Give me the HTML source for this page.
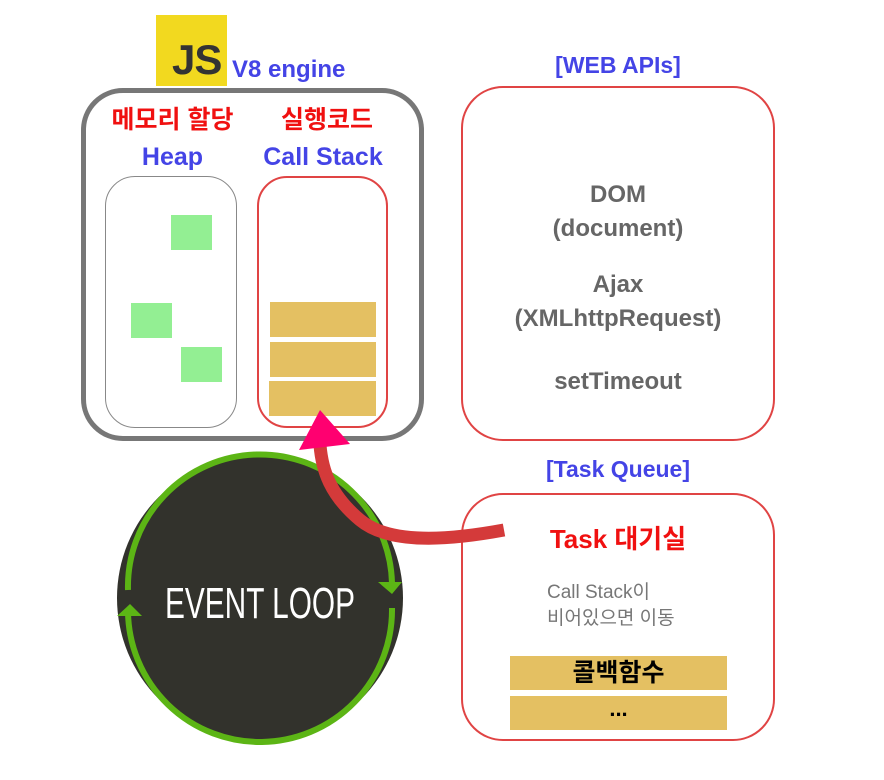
<!DOCTYPE html>
<html><head><meta charset="utf-8"><style>
body{margin:0;width:884px;height:780px;background:#fff;position:relative;overflow:hidden;font-family:"Liberation Sans","Noto Sans CJK KR",sans-serif}
.a{position:absolute;box-sizing:border-box}
.t{position:absolute;font-weight:bold;white-space:nowrap;text-align:center}
</style></head><body>
<div class="a" style="left:156px;top:15px;width:71px;height:71px;background:#f2d91f"></div>
<div class="t" style="left:172px;top:38px;font-size:42px;color:#333;letter-spacing:-1px;line-height:44px">JS</div>
<div class="t" style="left:232px;top:56px;font-size:24px;color:#4444e6">V8 engine</div>
<div class="a" style="left:81px;top:88px;width:343px;height:353px;border:5px solid #777;border-radius:42px"></div>
<div class="t" style="left:105px;top:100px;width:135px;font-size:25px;color:#f01010">메모리 할당</div>
<div class="t" style="left:262px;top:100px;width:130px;font-size:25px;color:#f01010">실행코드</div>
<div class="t" style="left:105px;top:143px;width:135px;font-size:25px;color:#4444e6">Heap</div>
<div class="t" style="left:252px;top:143px;width:142px;font-size:25px;color:#4444e6">Call Stack</div>
<div class="a" style="left:105px;top:176px;width:132px;height:252px;border:1px solid #888;border-radius:30px"></div>
<div class="a" style="left:171px;top:215px;width:41px;height:35px;background:#93ef93"></div>
<div class="a" style="left:131px;top:303px;width:41px;height:35px;background:#93ef93"></div>
<div class="a" style="left:181px;top:347px;width:41px;height:35px;background:#93ef93"></div>
<div class="a" style="left:257px;top:176px;width:131px;height:252px;border:2.5px solid #e04444;border-radius:30px"></div>
<div class="a" style="left:270px;top:302px;width:106px;height:35px;background:#e4c062"></div>
<div class="a" style="left:270px;top:342px;width:106px;height:35px;background:#e4c062"></div>
<div class="a" style="left:269px;top:381px;width:107px;height:35px;background:#e4c062"></div>

<div class="t" style="left:461px;top:52px;width:314px;font-size:23px;color:#4444e6">[WEB APIs]</div>
<div class="a" style="left:461px;top:86px;width:314px;height:355px;border:2.5px solid #e04444;border-radius:42px"></div>
<div class="t" style="left:461px;top:178px;width:314px;font-size:24px;color:#666;line-height:34px">DOM<br>(document)</div>
<div class="t" style="left:461px;top:268px;width:314px;font-size:24px;color:#666;line-height:34px">Ajax<br>(XMLhttpRequest)</div>
<div class="t" style="left:461px;top:365px;width:314px;font-size:24px;color:#666;line-height:34px">setTimeout</div>

<div class="t" style="left:461px;top:456px;width:314px;font-size:23px;color:#4444e6">[Task Queue]</div>
<div class="a" style="left:461px;top:493px;width:314px;height:248px;border:2.5px solid #e04444;border-radius:42px"></div>
<div class="t" style="left:461px;top:519px;width:314px;font-size:26px;color:#f01010">Task 대기실</div>
<div class="a" style="left:547px;top:580px;font-size:19px;color:#777;line-height:26px;white-space:nowrap">Call Stack이<br>비어있으면 이동</div>
<div class="a" style="left:510px;top:656px;width:217px;height:34px;background:#e4c062"></div>
<div class="t" style="left:510px;top:656px;width:217px;font-size:25px;line-height:34px;color:#000">콜백함수</div>
<div class="a" style="left:510px;top:696px;width:217px;height:34px;background:#e4c062"></div>
<div class="t" style="left:510px;top:692px;width:217px;font-size:22px;line-height:34px;color:#000">...</div>

<svg class="a" style="left:0;top:0" width="884" height="780">
<circle cx="260" cy="598" r="143" fill="#32322c"/>
<path d="M128,590 A132,132 0 0 1 392,583" fill="none" stroke="#5cb515" stroke-width="6"/>
<path d="M392,608 A132,132 0 0 1 128,612" fill="none" stroke="#5cb515" stroke-width="6"/>
<polygon points="378,582 402,582 392,594" fill="#5cb515"/>
<polygon points="117,616 142,616 130,604" fill="#5cb515"/>
<text x="260" y="618" text-anchor="middle" textLength="190" lengthAdjust="spacingAndGlyphs" font-family="Liberation Sans Narrow, Liberation Sans, sans-serif" font-size="44" fill="#fff">EVENT LOOP</text>
<path d="M504,530 C450,540 390,545 360,520 C330,495 322,470 320,445" fill="none" stroke="#d43a3a" stroke-width="13"/>
<polygon points="320,410 350,444 299,450" fill="#ff0070"/>
</svg>
</body></html>
